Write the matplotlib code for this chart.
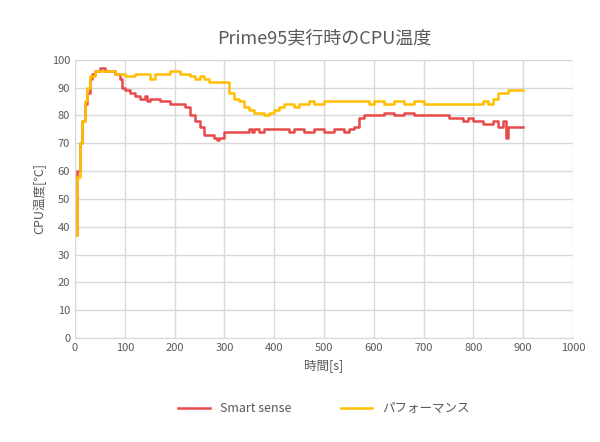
import matplotlib
matplotlib.use("Agg")
import matplotlib.pyplot as plt

plt.rcParams["font.family"] = ["Noto Sans CJK JP"]

smart_t = [0, 5, 10, 15, 20, 25, 30, 35, 40, 50, 60, 70, 80, 90, 95, 100, 110, 120, 130, 140,
           145, 150, 160, 170, 180, 190, 200, 210, 220, 230, 240, 250, 260, 270, 280, 285, 290,
           300, 320, 340, 350, 355, 360, 370, 380, 400, 420, 430, 440, 460, 480, 500, 520, 540,
           550, 560, 570, 580, 600, 620, 640, 660, 680, 700, 740, 750, 770, 780, 790, 800, 820,
           840, 850, 860, 865, 870, 880, 900]
smart_v = [37, 60, 70, 78, 84, 88, 93, 95, 96, 97, 96, 96, 95, 93, 90, 89, 88, 87, 86, 87,
           85, 86, 86, 85, 85, 84, 84, 84, 83, 80, 78, 76, 73, 73, 72, 71, 72,
           74, 74, 74, 75, 74, 75, 74, 75, 75, 75, 74, 75, 74, 75, 74, 75, 74,
           75, 76, 79, 80, 80, 81, 80, 81, 80, 80, 80, 79, 79, 78, 79, 78, 77,
           78, 76, 78, 72, 76, 76, 76]

perf_t = [0, 5, 10, 15, 20, 25, 30, 40, 50, 60, 70, 80, 90, 100, 110, 120, 130, 140, 150, 160,
          170, 180, 190, 200, 210, 220, 230, 240, 250, 260, 270, 300, 310, 320, 330, 340, 350,
          360, 370, 380, 390, 400, 410, 420, 430, 440, 450, 460, 470, 480, 500, 520, 540, 560,
          580, 590, 600, 620, 640, 660, 680, 700, 720, 740, 760, 780, 800, 820, 830, 840, 850,
          860, 870, 900]
perf_v = [37, 58, 70, 78, 85, 90, 94, 96, 96, 96, 96, 95, 95, 94, 94, 95, 95, 95, 93, 95,
          95, 95, 96, 96, 95, 95, 94, 93, 94, 93, 92, 92, 88, 86, 85, 83, 82,
          81, 81, 80, 81, 82, 83, 84, 84, 83, 84, 84, 85, 84, 85, 85, 85, 85,
          85, 84, 85, 84, 85, 84, 85, 84, 84, 84, 84, 84, 84, 85, 84, 86, 88,
          88, 89, 89]

fig, ax = plt.subplots(figsize=(6, 4.42), dpi=100)
fig.subplots_adjust(left=0.125, right=0.955, top=0.865, bottom=0.235)

ax.plot(smart_t, smart_v, color="#e84a4a", lw=1.8, label="Smart sense", drawstyle="steps-post")
ax.plot(perf_t, perf_v, color="#ffbf00", lw=1.8, label="パフォーマンス", drawstyle="steps-post")

ax.set_xlim(0, 1000)
ax.set_ylim(0, 100)
ax.set_xticks(range(0, 1001, 100))
ax.set_yticks(range(0, 101, 10))
ax.grid(color="#d9d9d9", lw=1)
ax.set_axisbelow(True)
for s in ax.spines.values():
    s.set_visible(False)
ax.spines["left"].set_visible(True)
ax.spines["left"].set_color("#d9d9d9")
ax.spines["bottom"].set_visible(True)
ax.spines["bottom"].set_color("#d9d9d9")
ax.tick_params(length=0, labelsize=8, colors="#595959")

ax.set_title("Prime95実行時のCPU温度", fontsize=13, color="#595959", pad=12)
ax.set_xlabel("時間[s]", fontsize=9, color="#595959")
ax.set_ylabel("CPU温度[℃]", fontsize=9, color="#595959")
ax.legend(loc="upper center", bbox_to_anchor=(0.5, -0.19), ncol=2, frameon=False,
          fontsize=9, labelcolor="#595959", handlelength=2.5, columnspacing=4)

fig.savefig("out.png")
